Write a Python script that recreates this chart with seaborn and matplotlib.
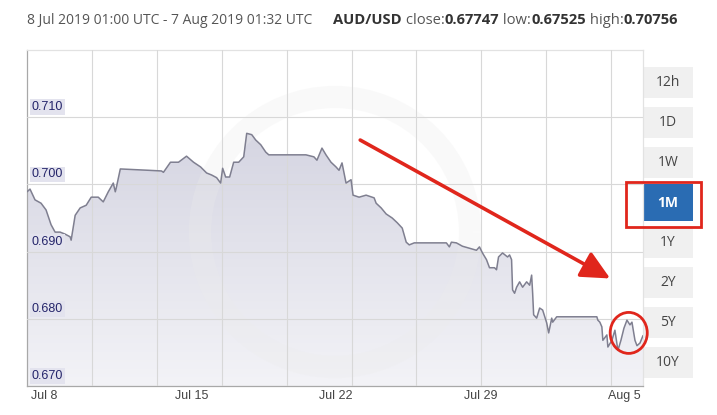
import numpy as np
import pandas as pd
import seaborn as sns
import matplotlib.pyplot as plt
import matplotlib.dates as mdates
import matplotlib.transforms as mtransforms
from matplotlib.colors import LinearSegmentedColormap
from matplotlib.patches import Rectangle, Ellipse, Arc

# -------------------------------------------------
# Data: AUD/USD, 8 Jul - 7 Aug 2019
# -------------------------------------------------
# days after 8 Jul 2019 00:00 UTC
days = [0.000, 0.146, 0.389, 0.682, 0.925, 1.168, 1.363, 1.607, 1.850, 2.093,
        2.142, 2.337, 2.580, 2.873, 3.116, 3.457, 3.700, 3.944, 4.187, 4.284,
        4.333, 4.528, 5.891, 6.524, 6.621, 6.962, 7.352, 7.741, 8.082, 8.423,
        8.715, 8.958, 9.202, 9.396, 9.494, 9.640, 9.834, 10.029, 10.273, 10.516,
        10.662, 10.906, 11.100, 11.344, 11.587, 11.733, 13.535, 13.924, 14.070, 14.314,
        14.508, 14.752, 14.995, 15.141, 15.287, 15.385, 15.482, 15.725, 15.823, 16.115,
        16.456, 16.845, 16.943, 17.186, 17.429, 17.722, 17.965, 18.209, 18.403, 18.549,
        18.793, 20.351, 20.497, 20.594, 20.838, 21.130, 21.471, 21.811, 21.957, 22.103,
        22.298, 22.444, 22.687, 22.785, 22.882, 23.077, 23.320, 23.418, 23.515, 23.564,
        23.661, 23.759, 23.905, 24.051, 24.246, 24.392, 24.489, 24.538, 24.586, 24.732,
        24.878, 25.024, 25.219, 25.316, 25.463, 25.511, 25.706, 27.653, 27.702, 27.799,
        27.897, 27.945, 28.140, 28.189, 28.384, 28.530, 28.676, 28.822, 28.968, 29.114,
        29.260, 29.357, 29.503, 29.601, 29.747, 29.893]
rates = [0.6989, 0.6993, 0.6977, 0.6972, 0.6962, 0.6940, 0.6929, 0.6929, 0.6926, 0.6922,
         0.6917, 0.6954, 0.6965, 0.6969, 0.6981, 0.6981, 0.6974, 0.6989, 0.7002, 0.6989,
         0.6995, 0.7023, 0.7021, 0.7020, 0.7018, 0.7033, 0.7033, 0.7042, 0.7033, 0.7026,
         0.7017, 0.7014, 0.7010, 0.7002, 0.7024, 0.7011, 0.7011, 0.7033, 0.7033, 0.7041,
         0.7076, 0.7074, 0.7066, 0.7059, 0.7048, 0.7044, 0.7044, 0.7041, 0.7036, 0.7054,
         0.7044, 0.7033, 0.7026, 0.7021, 0.7032, 0.7017, 0.7002, 0.7007, 0.6984, 0.6981,
         0.6984, 0.6980, 0.6972, 0.6965, 0.6956, 0.6950, 0.6943, 0.6935, 0.6914, 0.6910,
         0.6913, 0.6913, 0.6907, 0.6914, 0.6913, 0.6908, 0.6905, 0.6902, 0.6907, 0.6898,
         0.6888, 0.6876, 0.6876, 0.6873, 0.6892, 0.6898, 0.6892, 0.6895, 0.6888, 0.6843,
         0.6838, 0.6847, 0.6855, 0.6847, 0.6855, 0.6850, 0.6865, 0.6838, 0.6806, 0.6801,
         0.6816, 0.6813, 0.6794, 0.6779, 0.6801, 0.6795, 0.6803, 0.6803, 0.6798, 0.6795,
         0.6788, 0.6768, 0.6776, 0.6758, 0.6768, 0.6783, 0.6753, 0.6768, 0.6786, 0.6798,
         0.6791, 0.6795, 0.6768, 0.6760, 0.6764, 0.6775]

price_ticks = [0.670, 0.680, 0.690, 0.700, 0.710]
date_ticks = ["2019-07-08", "2019-07-15", "2019-07-22", "2019-07-29", "2019-08-05"]
range_buttons = ["12h", "1D", "1W", "1M", "1Y", "2Y", "5Y", "10Y"]
selected_button = "1M"

header_range = "8 Jul 2019 01:00 UTC - 7 Aug 2019 01:32 UTC"
pair_name = "AUD/USD"
stat_names = ["close:", "low:", "high:"]
stat_values = ["0.67747", "0.67525", "0.70756"]

start = pd.Timestamp("2019-07-08")
df = pd.DataFrame({"time": start + pd.to_timedelta(days, unit="D"), "rate": rates})


def day_num(d):
    # matplotlib date number for a day offset from 8 Jul
    return mdates.date2num(start + pd.Timedelta(days=d))


# -------------------------------------------------
# Figure setup
# -------------------------------------------------
sns.set_style("white")
plt.rcParams["font.family"] = ["Liberation Sans", "DejaVu Sans"]

W, H = 717, 415
fig = plt.figure(figsize=(W / 100, H / 100), dpi=100)
ax = fig.add_axes([27 / W, 1 - 386 / H, 616 / W, 336 / H])
ax.set_zorder(3)

red = "#e0261c"
sans = ["Open Sans", "DejaVu Sans"]

# price line
sns.lineplot(data=df, x="time", y="rate", color="#7f7f90", linewidth=1.1, ax=ax, zorder=4)

# gradient area under the line
area = ax.fill_between(df["time"], df["rate"], 0.670, color="none", lw=0)
x0 = mdates.date2num(df["time"].iloc[0])
x1 = mdates.date2num(df["time"].iloc[-1])
shade = LinearSegmentedColormap.from_list("shade", ["#f3f3f7", "#d4d4e1"])
grad = np.linspace(0, 1, 256).reshape(-1, 1)
im = ax.imshow(grad, extent=[x0, x1, 0.670, 0.709], origin="lower", aspect="auto",
               cmap=shade, zorder=1)
im.set_clip_path(area.get_paths()[0], transform=ax.transData)

ax.set_xlim(x0, x1)
ax.set_ylim(0.670, 0.720)

# faint xe watermark ring behind the price line
ring = Arc((335, 415 - 232), 270, 270, transform=None, color="#ececec", lw=16,
           alpha=0.28, zorder=2)
ax.add_patch(ring)

# grid
tick_nums = [mdates.date2num(pd.Timestamp(d)) for d in date_ticks]
ax.set_yticks(price_ticks)
ax.set_xticks(tick_nums)
ax.set_xticks([x0 + 3.15 * k for k in range(10)], minor=True)
ax.grid(True, which="major", axis="y", color="#d8d8d8", lw=0.8)
ax.grid(True, which="minor", axis="x", color="#d8d8d8", lw=0.8)
ax.set_axisbelow(False)
ax.tick_params(axis="y", length=0, labelleft=False)
ax.tick_params(axis="x", which="major", length=14, width=0.8, color="#cfcfcf", labelbottom=False)
ax.tick_params(axis="x", which="minor", length=0, labelbottom=False)
ax.set_xlabel("")
ax.set_ylabel("")

for side in ["top", "right"]:
    ax.spines[side].set_color("#e2e2e2")
for side in ["left", "bottom"]:
    ax.spines[side].set_color("#a8a8a8")
for s in ax.spines.values():
    s.set_linewidth(0.9)

# price labels sit inside the plot, just above the gridlines
ytrans = mtransforms.blended_transform_factory(ax.transAxes, ax.transData)
for p in price_ticks:
    ax.annotate(f"{p:.3f}", xy=(0, p), xycoords=ytrans, xytext=(5, 4),
                textcoords="offset pixels", ha="left", va="bottom", fontsize=9,
                color="#24246a", zorder=5,
                bbox=dict(boxstyle="square,pad=0.15", fc="#e3e3ee", ec="none"))

# date labels, left aligned next to the tick lines
xtrans = ax.get_xaxis_transform()
for d, xn in zip(date_ticks, tick_nums):
    label = pd.Timestamp(d).strftime("%b %-d")
    ax.annotate(label, xy=(xn, 0), xycoords=xtrans, xytext=(4, -10),
                textcoords="offset pixels", ha="left", va="center", fontsize=9,
                color="#444444", annotation_clip=False)

# -------------------------------------------------
# Header
# -------------------------------------------------
hdr = dict(fontsize=10, family=sans, va="center")
stat_hdr = dict(hdr, fontsize=10.6)
piece = fig.text(27 / W, 1 - 20 / H, header_range, color="#555555", **hdr)
piece = fig.text(333 / W, 1 - 20 / H, pair_name, color="#333333", fontweight="bold", **stat_hdr)
for name, val in zip(stat_names, stat_values):
    piece = ax.annotate(" " + name, xy=(1, 0.5), xycoords=piece, xytext=(0, 0),
                        textcoords="offset pixels", color="#555555",
                        annotation_clip=False, **stat_hdr)
    piece = ax.annotate(val, xy=(1, 0.5), xycoords=piece, xytext=(0, 0),
                        textcoords="offset pixels", color="#333333", fontweight="bold",
                        annotation_clip=False, **stat_hdr)

# -------------------------------------------------
# Range buttons on the right
# -------------------------------------------------
for i, name in enumerate(range_buttons):
    top = 67 + 40 * i
    h = 31
    fc, tc, fw = "#f0f0f0", "#444444", "normal"
    if name == selected_button:
        top, h = top - 3, h + 6
        fc, tc, fw = "#2a6cb3", "white", "bold"
    fig.add_artist(Rectangle((643 / W, 1 - (top + h) / H), 50 / W, h / H,
                             transform=fig.transFigure, fc=fc, ec="none"))
    fig.text(668 / W, 1 - (top + h / 2) / H, name, ha="center", va="center",
             fontsize=10, color=tc, fontweight=fw, family=sans)
    if name == selected_button:
        fig.add_artist(Rectangle((626 / W, 1 - 227 / H), 75 / W, 45 / H,
                                 transform=fig.transFigure, fc="none", ec=red,
                                 lw=2, zorder=6))

# -------------------------------------------------
# Red markup: trend arrow and circle on the last days
# -------------------------------------------------
ax.annotate("", xy=(day_num(28.3), 0.6860), xytext=(day_num(16.17), 0.7066),
            arrowprops=dict(arrowstyle="-|>,head_length=0.7,head_width=0.34",
                            mutation_scale=25, lw=2.6, color=red, shrinkA=0, shrinkB=0),
            zorder=6, annotation_clip=False)
circle = Ellipse((day_num(29.2), 0.6779), width=1.8, height=0.0061,
                 fc="none", ec=red, lw=2, zorder=6, clip_on=False)
ax.add_patch(circle)

fig.savefig("out.png", dpi=100)
